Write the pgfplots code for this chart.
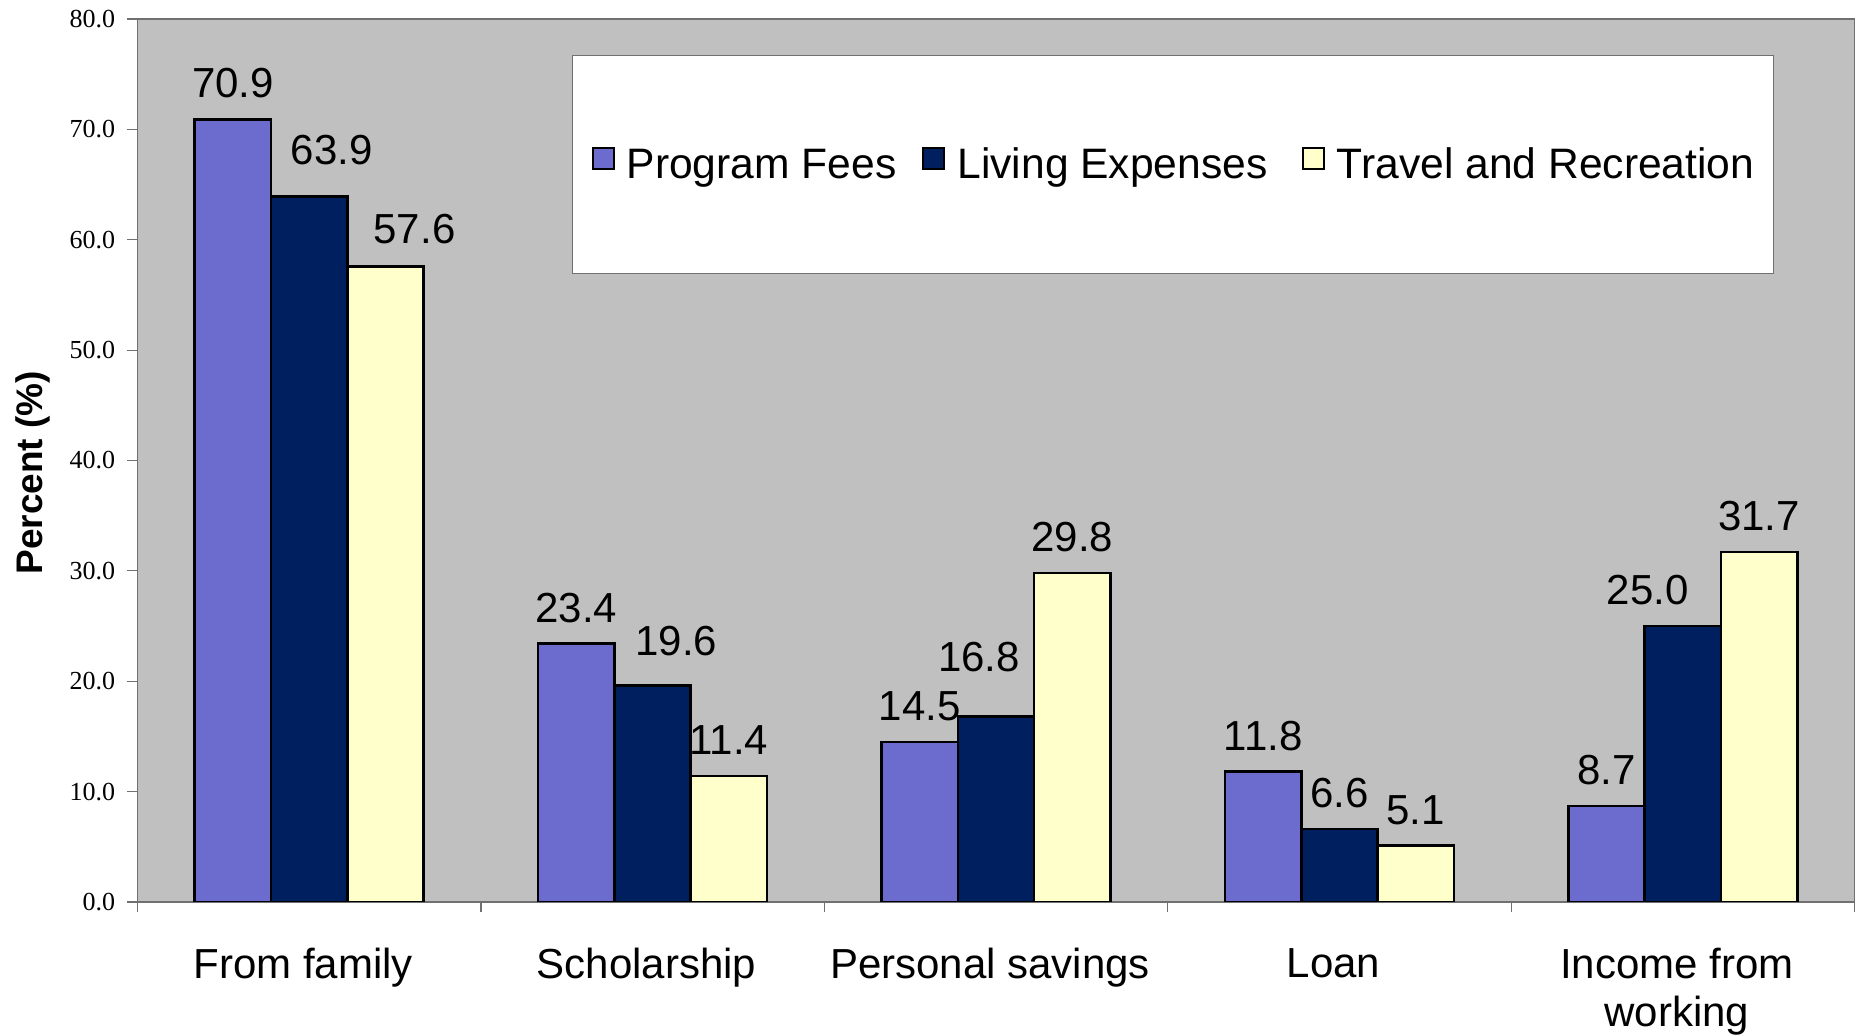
\documentclass[border=0pt]{standalone}
\usepackage{pgfplots}
\pgfplotsset{compat=1.18}
\usepackage{pgfplotstable}
\usepackage{fontspec}
\setmainfont{Liberation Sans}
\newfontfamily\timesf{Liberation Serif}
\usetikzlibrary{calc}
\definecolor{bgc}{HTML}{C0C0C0}
\definecolor{c1}{HTML}{6C6CCE}
\definecolor{c2}{HTML}{001F5F}
\definecolor{c3}{HTML}{FFFFCC}
\definecolor{axc}{HTML}{707070}
\pgfkeys{/pgf/number format/assume math mode=true}
% x = category index, y = percent, dx/dy = label offsets (pt)
\pgfplotstableread{
x y dx dy
0 70.9 0 0
1 23.4 0 0
2 14.5 0 0
3 11.8 0 0
4 8.7 0 0
}\fees
\pgfplotstableread{
x y dx dy
0 63.9 11.2 5.5
1 19.6 11.9 4.3
2 16.8 -8.5 11.8
3 6.6 0 0
4 25.0 -17.5 0
}\living
\pgfplotstableread{
x y dx dy
0 57.6 14.5 0.6
1 11.4 0 0
2 29.8 0 0
3 5.1 0 0
4 31.7 0 0
}\travel
\begin{document}
\begin{tikzpicture}
\begin{axis}[name=A, scale only axis, width=858.5pt, height=441.5pt,
  ymin=0, ymax=80, ytick={0,10,...,80},
  xmin=-0.5, xmax=4.5,
  xtick={-0.5,0.5,1.5,2.5,3.5,4.5}, xticklabels={},
  extra x ticks={0,1,2,3,4},
  extra x tick labels={From family, Scholarship, Personal savings, Loan, {Income from\\working}},
  extra x tick style={major tick length=0pt, xtick style={draw=none}},
  tick align=outside, major tick length=5pt, tick pos=left,
  tick style={axc, line width=0.6pt},
  axis background/.style={fill=bgc},
  axis line style={axc, line width=0.6pt},
  xticklabel style={font=\fontsize{21}{23.7}\selectfont, align=center, inner sep=0pt, anchor=north, yshift=-23pt, xshift=-3pt},
  yticklabel style={font=\timesf\fontsize{13}{15}\selectfont, inner sep=0pt, xshift=-6pt,
     /pgf/number format/fixed, /pgf/number format/fixed zerofill, /pgf/number format/precision=1},
  ylabel={Percent (\%)},
  ylabel style={at={(axis description cs:-0.0609,0.486)}, anchor=center, font=\fontsize{18.5}{20}\selectfont\bfseries},
  ybar, bar width=0.2222,
  visualization depends on=\thisrow{dx}\as\dx,
  visualization depends on=\thisrow{dy}\as\dy,
  nodes near coords,
  nodes near coords style={font=\fontsize{21}{24}\selectfont, anchor=base, xshift=\dx pt, yshift={10.8pt+\dy pt}, inner sep=0pt, black,
     /pgf/number format/fixed, /pgf/number format/fixed zerofill, /pgf/number format/precision=1},
  legend columns=-1,
  legend style={at={(0.6031,0.835)}, anchor=center, draw=axc, line width=0.6pt, fill=white,
     font=\fontsize{21.3}{24}\selectfont, inner xsep=9.6pt, inner ysep=45.8pt,
     /tikz/every odd column/.append style={column sep=6pt},
     /tikz/every even column/.append style={column sep=13pt},
     nodes={inner sep=0pt}},
  legend image code/.code={\draw[#1, line width=1pt] (0pt,-2.2pt) rectangle (10.5pt,8.3pt);},
]
\addplot[fill=c1, draw=black, line width=1.3pt, bar shift=-0.2222] table[x=x, y=y] {\fees};
\addplot[fill=c2, draw=black, line width=1.3pt, bar shift=0] table[x=x, y=y] {\living};
\addplot[fill=c3, draw=black, line width=1.3pt, bar shift=0.2222] table[x=x, y=y] {\travel};
\legend{Program Fees, Living Expenses\hspace*{4.1pt}, Travel and Recreation}
\end{axis}
\pgfresetboundingbox
\path ($(A.south west)+(-68.75pt,-67pt)$) rectangle ($(A.north east)+(1.75pt,9.5pt)$);
\end{tikzpicture}
\end{document}
